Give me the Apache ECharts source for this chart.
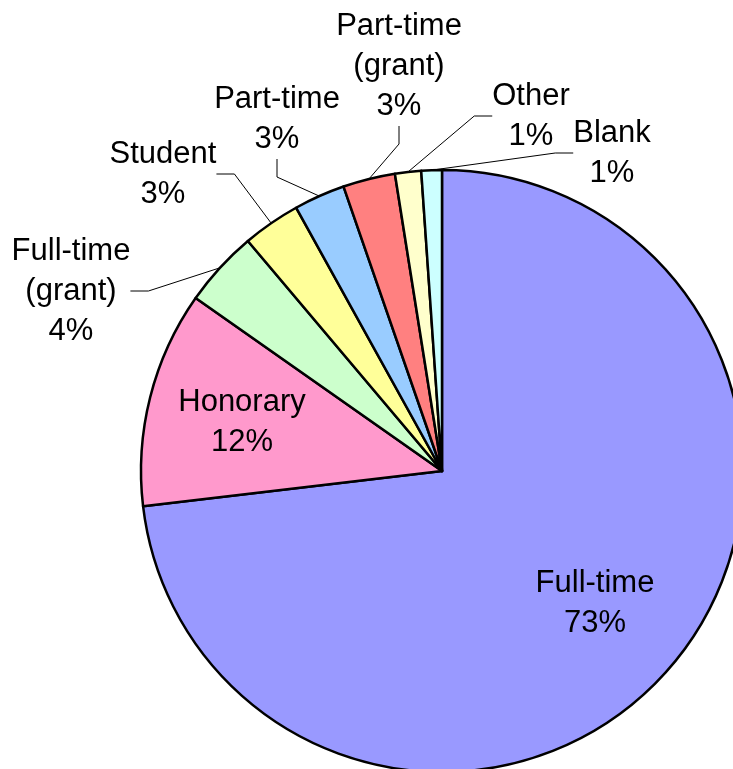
<!DOCTYPE html>
<html>
<head>
<meta charset="utf-8">
<script src="https://cdn.jsdelivr.net/npm/echarts@6/dist/echarts.min.js"></script>
<style>
  html, body { margin: 0; padding: 0; background: #fff; }
  #e_chart_1 { width: 733px; height: 769px; }
</style>
</head>
<body>
<div id="e_chart_1"></div>
<script>
// slice order, clockwise from 12 o'clock
var categories = ['Full-time', 'Honorary', 'Full-time (grant)', 'Student',
    'Part-time', 'Part-time (grant)', 'Other', 'Blank'];
var shares = [73.1, 11.6, 4.1, 3.1, 2.75, 2.8, 1.4, 1.1];
var colors = ['#9999FF', '#FF99CC', '#CCFFCC', '#FFFF99',
    '#99CCFF', '#FF8080', '#FFFFCC', '#CCFFFF'];
var insideLabels = ['Full-time', 'Honorary'];

// where each label block sits (centre of text)
var labelPos = {
    'Full-time': [595, 603],
    'Honorary': [242, 422],
    'Full-time (grant)': [71, 291],
    'Student': [163, 174],
    'Part-time': [277, 119],
    'Part-time (grant)': [399, 66],
    'Other': [531, 116],
    'Blank': [612, 153]
};

var dom = document.getElementById("e_chart_1");
var myChart = echarts.init(dom);

var pieData = categories.map(function (name, i) {
    var item = {
        name: name,
        value: shares[i],
        itemStyle: { color: colors[i] }
    };
    if (insideLabels.indexOf(name) >= 0) {
        item.label = { position: 'inside' };
        item.labelLine = { show: false };
    }
    return item;
});

var option = {
    animation: false,
    series: [{
        type: 'pie',
        center: [442, 471],
        radius: 301,
        startAngle: 90,
        clockwise: true,
        percentPrecision: 0,
        avoidLabelOverlap: false,
        itemStyle: {
            borderColor: '#000',
            borderWidth: 2.5
        },
        label: {
            show: true,
            position: 'outside',
            color: '#000',
            fontFamily: 'Liberation Sans',
            fontSize: 31,
            lineHeight: 40,
            align: 'center',
            formatter: function (p) {
                return p.name.replace(' (', '\n(') + '\n' + p.percent + '%';
            }
        },
        labelLine: {
            show: true,
            length: 15,
            length2: 18,
            lineStyle: { color: '#000', width: 1 }
        },
        emphasis: { disabled: true },
        labelLayout: function (params) {
            var pos = labelPos[categories[params.dataIndex]];
            return {
                x: pos[0],
                y: pos[1],
                align: 'center',
                verticalAlign: 'middle'
            };
        },
        data: pieData
    }]
};

myChart.setOption(option);
</script>
</body>
</html>
